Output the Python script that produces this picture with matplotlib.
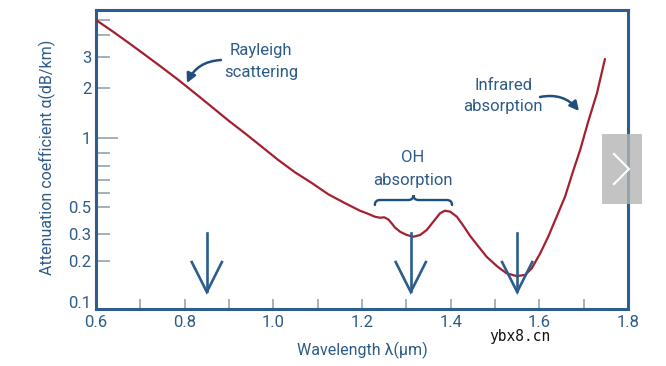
import numpy as np
import matplotlib
matplotlib.use("Agg")
import matplotlib.pyplot as plt
from matplotlib.path import Path
from matplotlib.patches import PathPatch, Rectangle
from matplotlib.transforms import blended_transform_factory
from matplotlib.lines import Line2D

plt.rcParams['font.family'] = ['Roboto', 'DejaVu Sans']

# ---------------- data ----------------
WAVELENGTH = [0.600, 0.635, 0.673, 0.711, 0.748, 0.786, 0.823, 0.861, 0.898, 0.936,
              0.974, 1.011, 1.049, 1.087, 1.124, 1.162, 1.196, 1.211, 1.229, 1.241,
              1.250, 1.259, 1.267, 1.274, 1.286, 1.301, 1.316, 1.331, 1.346, 1.361,
              1.376, 1.387, 1.399, 1.414, 1.429, 1.444, 1.463, 1.481, 1.504, 1.526,
              1.549, 1.568, 1.583, 1.602, 1.620, 1.639, 1.658, 1.677, 1.692, 1.710,
              1.730, 1.748]
ATTENUATION = [5.00, 4.27, 3.62, 3.08, 2.62, 2.21, 1.85, 1.53, 1.27, 1.06,
               0.939, 0.845, 0.753, 0.675, 0.590, 0.525, 0.465, 0.444, 0.416, 0.408,
               0.4115, 0.396, 0.367, 0.340, 0.313, 0.2955, 0.288, 0.2955, 0.3236, 0.379,
               0.444, 0.466, 0.4575, 0.416, 0.349, 0.291, 0.248, 0.2133, 0.1837, 0.1624,
               0.155, 0.158, 0.1768, 0.2245, 0.288, 0.416, 0.572, 0.770, 0.918, 1.24,
               1.85, 2.92]
Y_TICK_VALUES = [0.1, 0.2, 0.3, 0.5, 1, 2, 3]
Y_TICK_LABELS = ['0.1', '0.2', '0.3', '0.5', '1', '2', '3']
Y_MINOR_VALUES = [0.6, 0.7, 0.8, 0.9, 4, 5]
X_TICK_VALUES = [0.6, 0.8, 1.0, 1.2, 1.4, 1.6, 1.8]
X_TICK_LABELS = ['0.6', '0.8', '1.0', '1.2', '1.4', '1.6', '1.8']
X_MINOR_VALUES = [0.7, 0.9, 1.1, 1.3, 1.5, 1.7]
WINDOW_WAVELENGTHS = [0.85, 1.31, 1.55]
OH_SPAN = (1.229, 1.403)

# ---------------- schematic (non-uniform) y scale ----------------
# axis height (px above bottom) at which each value sits in the drawing
_SCALE_VALUES = [1e-3, 0.1, 0.2, 0.3, 0.5, 0.6, 0.7, 0.8, 0.9, 1, 2, 3, 4, 5, 1e3]
_SCALE_HEIGHTS = [-265, 7, 48, 75, 102, 116, 129, 143, 156, 171.5, 221.5, 252, 274, 289, 645.6]
_LK = np.log10(_SCALE_VALUES)
_HK = np.array(_SCALE_HEIGHTS, dtype=float)


def fwd(v):
    v = np.clip(np.asarray(v, dtype=float), 1e-9, None)
    return np.interp(np.log10(v), _LK, _HK)


def inv(h):
    h = np.asarray(h, dtype=float)
    return 10 ** np.interp(h, _HK, _LK)


BLUE = '#2c5d8c'
DARK = '#1f4f7e'
TEXT = '#2d5b88'
TICKC = '#8c9bab'
RED = '#a3202f'

fig = plt.figure(figsize=(6.66, 3.66), dpi=100)
ax = fig.add_axes([96 / 666, 57 / 366, 532 / 666, 299 / 366])
ax.set_yscale('function', functions=(fwd, inv))
ax.set_xlim(0.6, 1.8)
ax.set_ylim(float(inv(0)), float(inv(299)))

ax.plot(WAVELENGTH, ATTENUATION, color=RED, lw=1.6, solid_joinstyle='round',
        solid_capstyle='round', zorder=3)

# spines
for s in ax.spines.values():
    s.set_color(BLUE)
    s.set_linewidth(2.2)

# ticks
ax.set_xticks(X_TICK_VALUES, X_TICK_LABELS)
ax.set_xticks(X_MINOR_VALUES, minor=True)
ax.set_yticks(Y_TICK_VALUES, Y_TICK_LABELS)
ax.set_yticks(Y_MINOR_VALUES, minor=True)
ax.yaxis.set_minor_formatter(matplotlib.ticker.NullFormatter())
ax.tick_params(axis='both', which='both', direction='in', color=TICKC, width=1.1,
               labelcolor=TEXT, labelsize=12)
ax.tick_params(axis='x', which='both', length=7.5, pad=4)
ax.tick_params(axis='y', which='both', length=10, pad=3.5)
for t, v in zip(ax.yaxis.get_major_ticks(), Y_TICK_VALUES):
    if v == 1:
        t.tick1line.set_markersize(16)
    if v == 0.1:
        t.tick1line.set_visible(False)
    t.tick2line.set_visible(False)
for t in ax.yaxis.get_minor_ticks():
    t.tick2line.set_visible(False)
for t in ax.xaxis.get_major_ticks() + ax.xaxis.get_minor_ticks():
    t.tick2line.set_visible(False)

ax.set_xlabel('Wavelength λ(μm)', fontsize=11.5, color=TEXT)
ax.xaxis.set_label_coords(0.5, -0.14)
ax.xaxis.label.set_va('center')
ax.set_ylabel('Attenuation coefficient α(dB/km)', fontsize=11.5, color=TEXT)
ax.yaxis.set_label_coords(-0.092, 0.508)
ax.yaxis.label.set_va('center')

# transmission window arrows
bt = blended_transform_factory(ax.transData, ax.transAxes)
for w in WINDOW_WAVELENGTHS:
    ax.add_line(Line2D([w, w], [0.254, 0.060], transform=bt, color=BLUE, lw=1.9, zorder=4))
    ax.add_line(Line2D([w - 0.034, w, w + 0.034], [0.157, 0.057, 0.157], transform=bt,
                       color=BLUE, lw=1.9, solid_joinstyle='miter', zorder=4))

# OH brace
x0, x1 = OH_SPAN
xc = (x0 + x1) / 2
r = 0.012
yb, ym, yt = 0.348, 0.3645, 0.381
verts = [(x0, yb), (x0, ym), (x0 + r, ym), (xc - r, ym), (xc, ym), (xc, yt),
         (xc, ym), (xc + r, ym), (x1 - r, ym), (x1, ym), (x1, yb)]
codes = [Path.MOVETO, Path.CURVE3, Path.CURVE3, Path.LINETO, Path.CURVE3, Path.CURVE3,
         Path.CURVE3, Path.CURVE3, Path.LINETO, Path.CURVE3, Path.CURVE3]
ax.add_patch(PathPatch(Path(verts, codes), transform=bt, fill=False, edgecolor=DARK,
                       lw=1.7, capstyle='round'))

# annotations (figure pixel coordinates, origin bottom-left)
fs = 12
fig.text(261 / 666, 1 - 51 / 366, 'Rayleigh', ha='center', va='center', fontsize=fs, color=TEXT)
fig.text(261 / 666, 1 - 72 / 366, 'scattering', ha='center', va='center', fontsize=fs, color=TEXT)
fig.text(413 / 666, 1 - 158 / 366, 'OH', ha='center', va='center', fontsize=fs, color=TEXT)
fig.text(413 / 666, 1 - 180 / 366, 'absorption', ha='center', va='center', fontsize=fs, color=TEXT)
fig.text(503 / 666, 1 - 86 / 366, 'Infrared', ha='center', va='center', fontsize=fs, color=TEXT)
fig.text(503 / 666, 1 - 107 / 366, 'absorption', ha='center', va='center', fontsize=fs, color=TEXT)

aprops = dict(arrowstyle='-|>,head_length=0.55,head_width=0.28', color=DARK, lw=1.8,
              shrinkA=0, shrinkB=0)
ax.annotate('', xy=(187, 366 - 83), xytext=(221, 366 - 60), xycoords='figure pixels',
            textcoords='figure pixels',
            arrowprops=dict(connectionstyle='arc3,rad=0.3', **aprops))
ax.annotate('', xy=(579, 366 - 111), xytext=(540, 366 - 97), xycoords='figure pixels',
            textcoords='figure pixels',
            arrowprops=dict(connectionstyle='arc3,rad=-0.3', **aprops))

# page overlay elements of the screenshot
fig.patches.append(Rectangle((602 / 666, 1 - 204 / 366), 40 / 666, 70 / 366,
                             transform=fig.transFigure, facecolor='#b4b4b4', alpha=0.8,
                             edgecolor='none', zorder=10))
fig.lines.append(Line2D([614 / 666, 629 / 666, 614 / 666],
                        [1 - 154 / 366, 1 - 169 / 366, 1 - 184 / 366],
                        transform=fig.transFigure, color='white', lw=1.6, zorder=11))
fig.text(520 / 666, 1 - 337 / 366, 'ybx8.cn', ha='center', va='center', fontsize=10.5,
         color='#111111', family='DejaVu Sans Mono')

fig.savefig('out.png', dpi=100)
